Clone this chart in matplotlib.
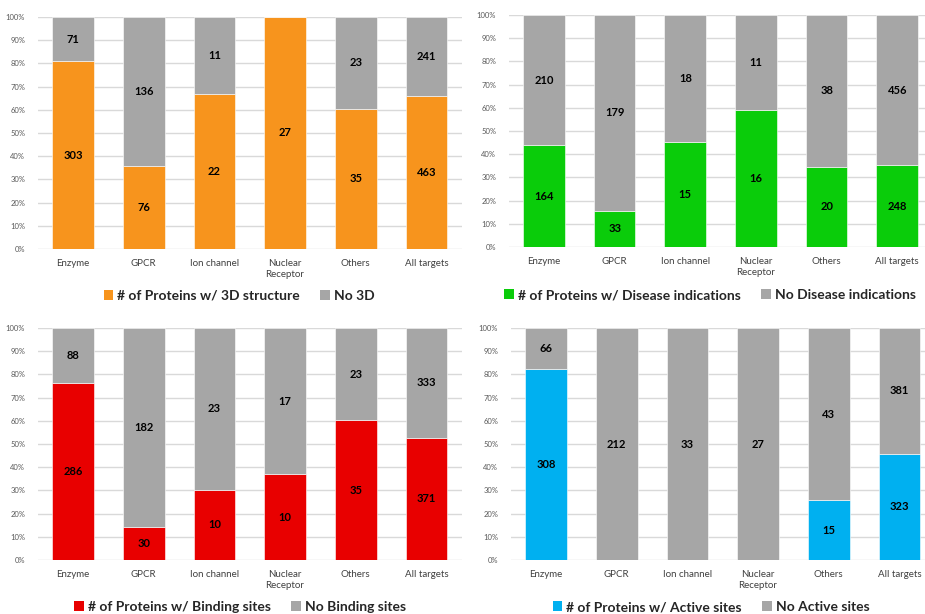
import numpy as np
import matplotlib.pyplot as plt
from matplotlib.patches import Patch

plt.rcParams['font.family'] = ['Lato', 'DejaVu Sans']

categories = ['Enzyme', 'GPCR', 'Ion channel', 'Nuclear\nReceptor', 'Others', 'All targets']
pct_ticks = [0, 10, 20, 30, 40, 50, 60, 70, 80, 90, 100]

# counts with / without each annotation
with_3d = [303, 76, 22, 27, 35, 463]
no_3d = [71, 136, 11, 0, 23, 241]
with_disease = [164, 33, 15, 16, 20, 248]
no_disease = [210, 179, 18, 11, 38, 456]
with_binding = [286, 30, 10, 10, 35, 371]
no_binding = [88, 182, 23, 17, 23, 333]
with_active = [308, 0, 0, 0, 15, 323]
no_active = [66, 212, 33, 27, 43, 381]

W, H = 925, 614
fig = plt.figure(figsize=(W / 100, H / 100), dpi=100)
GRAY = '#a6a6a6'

panels = [
    # (left px, bottom px, with, without, colour, label_with, label_without, legend centre)
    (37.7, 249, with_3d, no_3d, '#f7941d',
     '# of Proteins w/ 3D structure', 'No 3D', (239, 296)),
    (508.6, 247, with_disease, no_disease, '#0acc0a',
     '# of Proteins w/ Disease indications', 'No Disease indications', (710, 295)),
    (37.7, 560, with_binding, no_binding, '#e80000',
     '# of Proteins w/ Binding sites', 'No Binding sites', (240, 607)),
    (510.7, 560, with_active, no_active, '#00b0f0',
     '# of Proteins w/ Active sites', 'No Active sites', (711, 607)),
]

for left, bottom, yes, no, color, lab_yes, lab_no, leg_xy in panels:
    ax = fig.add_axes([left / W, 1 - bottom / H, 424 / W, 232 / H])
    yes = np.array(yes, float)
    no = np.array(no, float)
    tot = yes + no
    p_yes = yes / tot * 100
    p_no = no / tot * 100
    x = np.arange(len(categories))
    ax.bar(x, p_yes, 0.59, color=color, edgecolor='white', linewidth=0.4, zorder=2)
    ax.bar(x, p_no, 0.59, bottom=p_yes, color=GRAY, edgecolor='white', linewidth=0.4, zorder=2)
    for i in range(len(x)):
        if yes[i] > 0:
            ax.text(x[i], p_yes[i] / 2, f'{int(yes[i])}', ha='center', va='center',
                    fontsize=8, fontweight='bold', color='black', zorder=3)
        if no[i] > 0:
            ax.text(x[i], p_yes[i] + p_no[i] / 2, f'{int(no[i])}', ha='center', va='center',
                    fontsize=8, fontweight='bold', color='black', zorder=3)
    ax.set_xlim(-0.5, 5.5)
    ax.set_ylim(0, 100)
    ax.set_yticks(pct_ticks)
    ax.set_yticklabels([f'{t}%' for t in pct_ticks])
    ax.set_xticks(x)
    ax.set_xticklabels(categories, linespacing=1.3)
    ax.tick_params(axis='y', length=0, pad=9, labelsize=5.5, labelcolor='#595959')
    ax.tick_params(axis='x', length=0, pad=7, labelsize=7, labelcolor='#404040')
    ax.grid(axis='y', color='#d9d9d9', linewidth=1, zorder=0)
    ax.set_axisbelow(True)
    for s in ax.spines.values():
        s.set_visible(False)

    handles = [Patch(facecolor=color), Patch(facecolor=GRAY)]
    fig.legend(handles, [lab_yes, lab_no], loc='center',
               bbox_to_anchor=(leg_xy[0] / W, 1 - leg_xy[1] / H), ncol=2,
               frameon=False, handlelength=0.7, handleheight=0.7,
               handletextpad=0.25, columnspacing=1.5,
               prop={'size': 10, 'weight': 'bold'}, labelcolor='#262626')

fig.savefig('out.png', dpi=100)
